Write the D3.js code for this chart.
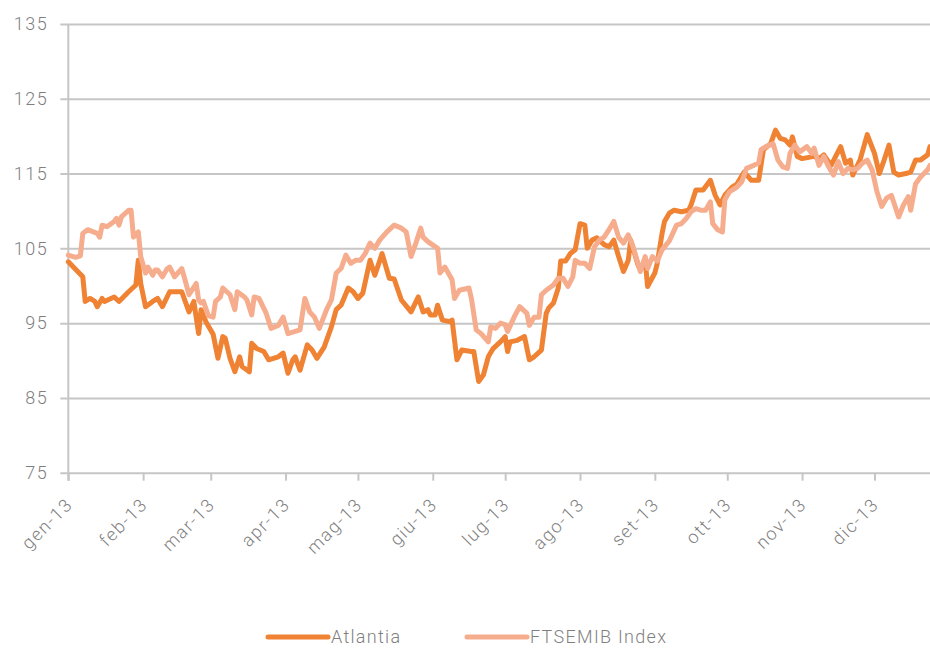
<!DOCTYPE html>
<html>
<head>
<meta charset="utf-8">
<script src="https://cdn.jsdelivr.net/npm/d3@7"></script>
<style>
    body { margin: 0; background: #fff; }
    text { font-family: Roboto, "Liberation Sans", sans-serif; font-weight: 300; fill: #7f7f7f; }
</style>
</head>
<body>
<div id="chart"></div>
<script>
// Atlantia vs FTSEMIB, base 100
const atlantiaDates = [
    "2013-01-01", "2013-01-07", "2013-01-08", "2013-01-10", "2013-01-12", "2013-01-13", "2013-01-15", "2013-01-16",
    "2013-01-20", "2013-01-22", "2013-01-26", "2013-01-29", "2013-01-30", "2013-01-31", "2013-02-02", "2013-02-05",
    "2013-02-07", "2013-02-09", "2013-02-12", "2013-02-17", "2013-02-20", "2013-02-22", "2013-02-24", "2013-02-25",
    "2013-02-27", "2013-03-02", "2013-03-04", "2013-03-06", "2013-03-07", "2013-03-09", "2013-03-11", "2013-03-13",
    "2013-03-14", "2013-03-17", "2013-03-18", "2013-03-20", "2013-03-23", "2013-03-25", "2013-03-29", "2013-03-31",
    "2013-04-02", "2013-04-04", "2013-04-05", "2013-04-07", "2013-04-10", "2013-04-12", "2013-04-14", "2013-04-17",
    "2013-04-20", "2013-04-22", "2013-04-24", "2013-04-27", "2013-04-29", "2013-05-01", "2013-05-03", "2013-05-06",
    "2013-05-08", "2013-05-11", "2013-05-14", "2013-05-16", "2013-05-19", "2013-05-23", "2013-05-26", "2013-05-28",
    "2013-05-30", "2013-05-31", "2013-06-02", "2013-06-03", "2013-06-05", "2013-06-08", "2013-06-09", "2013-06-11",
    "2013-06-13", "2013-06-17", "2013-06-18", "2013-06-20", "2013-06-22", "2013-06-24", "2013-06-26", "2013-06-29",
    "2013-07-01", "2013-07-02", "2013-07-03", "2013-07-06", "2013-07-09", "2013-07-11", "2013-07-13", "2013-07-16",
    "2013-07-18", "2013-07-19", "2013-07-21", "2013-07-23", "2013-07-24", "2013-07-26", "2013-07-28", "2013-07-30",
    "2013-08-01", "2013-08-03", "2013-08-04", "2013-08-06", "2013-08-08", "2013-08-11", "2013-08-13", "2013-08-15",
    "2013-08-17", "2013-08-19", "2013-08-21", "2013-08-22", "2013-08-25", "2013-08-26", "2013-08-28", "2013-08-29",
    "2013-09-01", "2013-09-02", "2013-09-04", "2013-09-05", "2013-09-07", "2013-09-09", "2013-09-12", "2013-09-15",
    "2013-09-16", "2013-09-18", "2013-09-21", "2013-09-24", "2013-09-26", "2013-09-28", "2013-09-30", "2013-10-03",
    "2013-10-05", "2013-10-08", "2013-10-11", "2013-10-14", "2013-10-16", "2013-10-19", "2013-10-21", "2013-10-23",
    "2013-10-25", "2013-10-27", "2013-10-28", "2013-10-30", "2013-11-01", "2013-11-06", "2013-11-08", "2013-11-10",
    "2013-11-13", "2013-11-17", "2013-11-19", "2013-11-21", "2013-11-22", "2013-11-25", "2013-11-28", "2013-12-01",
    "2013-12-03", "2013-12-05", "2013-12-07", "2013-12-09", "2013-12-11", "2013-12-14", "2013-12-16", "2013-12-18",
    "2013-12-20", "2013-12-23", "2013-12-24"
];
const atlantiaValues = [
    103.2, 101.2, 97.9, 98.3, 97.9, 97.2, 98.3, 97.9,
    98.5, 97.9, 99.2, 100.1, 103.4, 100.3, 97.2, 97.9,
    98.3, 97.2, 99.2, 99.2, 96.5, 97.9, 93.6, 96.8,
    95.2, 93.5, 90.3, 93.2, 93.0, 90.3, 88.5, 90.5,
    89.2, 88.5, 92.3, 91.6, 91.2, 90.1, 90.5, 91.0,
    88.3, 90.1, 90.5, 88.7, 92.1, 91.4, 90.3, 91.8,
    94.5, 96.8, 97.4, 99.7, 99.2, 98.3, 99.0, 103.4,
    101.4, 104.3, 101.0, 100.9, 98.1, 96.5, 98.5, 96.5,
    96.8, 96.1, 96.1, 97.4, 95.4, 95.2, 95.4, 90.1,
    91.4, 91.2, 91.2, 87.2, 88.1, 90.5, 91.6, 92.5,
    93.2, 91.2, 92.5, 92.7, 93.2, 90.1, 90.5, 91.4,
    96.3, 97.0, 97.7, 99.7, 103.3, 103.3, 104.3, 104.8,
    108.3, 108.1, 105.0, 106.1, 106.4, 105.5, 105.2, 106.1,
    103.9, 101.9, 103.4, 106.1, 102.8, 102.1, 103.4, 99.9,
    101.7, 103.0, 107.0, 108.6, 109.7, 110.1, 109.9, 110.1,
    110.8, 112.8, 112.8, 114.1, 112.1, 110.8, 112.1, 113.2,
    113.6, 115.2, 114.1, 114.1, 118.2, 119.0, 120.8, 119.7,
    119.5, 118.8, 119.9, 117.3, 117.0, 117.3, 117.0, 117.5,
    116.1, 118.6, 116.4, 116.8, 114.8, 116.8, 120.2, 117.7,
    115.0, 116.8, 118.8, 115.2, 114.8, 115.0, 115.2, 116.8,
    116.8, 117.5, 118.6
];

const ftseDates = [
    "2013-01-01", "2013-01-04", "2013-01-06", "2013-01-07", "2013-01-09", "2013-01-13", "2013-01-14", "2013-01-15",
    "2013-01-17", "2013-01-20", "2013-01-21", "2013-01-22", "2013-01-23", "2013-01-26", "2013-01-27", "2013-01-28",
    "2013-01-30", "2013-01-31", "2013-02-02", "2013-02-03", "2013-02-05", "2013-02-06", "2013-02-07", "2013-02-09",
    "2013-02-11", "2013-02-12", "2013-02-14", "2013-02-17", "2013-02-18", "2013-02-20", "2013-02-23", "2013-02-24",
    "2013-02-25", "2013-02-26", "2013-02-28", "2013-03-02", "2013-03-03", "2013-03-05", "2013-03-06", "2013-03-09",
    "2013-03-11", "2013-03-12", "2013-03-15", "2013-03-16", "2013-03-18", "2013-03-19", "2013-03-21", "2013-03-24",
    "2013-03-26", "2013-03-29", "2013-03-31", "2013-04-02", "2013-04-05", "2013-04-07", "2013-04-09", "2013-04-11",
    "2013-04-13", "2013-04-15", "2013-04-18", "2013-04-20", "2013-04-22", "2013-04-24", "2013-04-26", "2013-04-28",
    "2013-04-30", "2013-05-02", "2013-05-04", "2013-05-06", "2013-05-08", "2013-05-10", "2013-05-13", "2013-05-16",
    "2013-05-19", "2013-05-21", "2013-05-23", "2013-05-25", "2013-05-27", "2013-05-28", "2013-05-30", "2013-06-03",
    "2013-06-04", "2013-06-06", "2013-06-09", "2013-06-10", "2013-06-12", "2013-06-16", "2013-06-17", "2013-06-19",
    "2013-06-21", "2013-06-24", "2013-06-25", "2013-06-27", "2013-06-29", "2013-07-01", "2013-07-02", "2013-07-05",
    "2013-07-07", "2013-07-10", "2013-07-11", "2013-07-13", "2013-07-15", "2013-07-16", "2013-07-18", "2013-07-21",
    "2013-07-23", "2013-07-25", "2013-07-27", "2013-07-29", "2013-07-30", "2013-08-01", "2013-08-03", "2013-08-05",
    "2013-08-07", "2013-08-09", "2013-08-11", "2013-08-13", "2013-08-15", "2013-08-17", "2013-08-19", "2013-08-21",
    "2013-08-23", "2013-08-26", "2013-08-28", "2013-08-29", "2013-08-31", "2013-09-02", "2013-09-04", "2013-09-07",
    "2013-09-10", "2013-09-12", "2013-09-14", "2013-09-16", "2013-09-18", "2013-09-20", "2013-09-22", "2013-09-24",
    "2013-09-25", "2013-09-27", "2013-09-29", "2013-09-30", "2013-10-02", "2013-10-05", "2013-10-07", "2013-10-09",
    "2013-10-12", "2013-10-14", "2013-10-15", "2013-10-17", "2013-10-20", "2013-10-22", "2013-10-24", "2013-10-26",
    "2013-10-27", "2013-10-29", "2013-10-31", "2013-11-03", "2013-11-05", "2013-11-06", "2013-11-08", "2013-11-10",
    "2013-11-12", "2013-11-14", "2013-11-16", "2013-11-18", "2013-11-20", "2013-11-22", "2013-11-24", "2013-11-26",
    "2013-11-28", "2013-11-30", "2013-12-02", "2013-12-04", "2013-12-06", "2013-12-08", "2013-12-11", "2013-12-13",
    "2013-12-15", "2013-12-16", "2013-12-18", "2013-12-20", "2013-12-23", "2013-12-24"
];
const ftseValues = [
    104.1, 103.8, 104.0, 107.0, 107.5, 107.0, 106.5, 108.1,
    107.9, 108.6, 109.0, 108.1, 109.2, 110.1, 110.1, 106.5,
    107.2, 103.9, 101.7, 102.5, 101.4, 102.1, 102.1, 101.2,
    102.3, 102.5, 101.2, 102.3, 101.2, 98.8, 100.3, 98.1,
    97.7, 97.9, 96.0, 95.8, 97.9, 98.5, 99.7, 98.8,
    96.8, 99.2, 98.5, 98.1, 96.1, 98.5, 98.3, 96.3,
    94.3, 94.7, 95.8, 93.6, 93.9, 94.1, 98.3, 96.5,
    95.8, 94.3, 96.8, 98.1, 101.7, 102.3, 104.1, 103.0,
    103.4, 103.4, 104.3, 105.7, 105.0, 106.1, 107.2, 108.1,
    107.7, 107.2, 103.9, 105.7, 107.7, 106.5, 105.9, 105.0,
    101.7, 102.5, 100.8, 98.3, 99.4, 99.7, 98.3, 94.1,
    93.6, 92.5, 94.5, 94.3, 95.0, 94.8, 93.9, 96.0,
    97.2, 96.3, 94.7, 95.8, 95.8, 98.8, 99.4, 100.1,
    101.0, 101.0, 99.9, 101.2, 103.4, 103.0, 103.0, 102.3,
    105.2, 106.1, 106.5, 107.5, 108.6, 106.5, 105.7, 106.8,
    105.2, 101.9, 103.9, 102.3, 103.9, 103.3, 104.8, 106.0,
    108.1, 108.3, 109.0, 109.9, 110.3, 110.1, 110.1, 111.2,
    108.3, 107.5, 107.2, 111.5, 112.6, 113.2, 113.9, 115.7,
    116.1, 116.4, 118.2, 118.6, 119.0, 116.8, 115.9, 115.7,
    117.7, 118.8, 117.9, 118.6, 117.7, 118.4, 116.1, 117.3,
    115.9, 114.8, 116.6, 115.0, 115.7, 115.5, 115.7, 116.4,
    116.8, 115.5, 112.6, 110.6, 111.7, 112.1, 109.2, 110.8,
    111.9, 110.1, 113.6, 114.5, 115.5, 116.1
];

const seriesNames = ["Atlantia", "FTSEMIB Index"];
const seriesColors = ["#ef8233", "#f6ad8d"];
const yTicks = [75, 85, 95, 105, 115, 125, 135];
const monthTicks = ["2013-01-01", "2013-02-01", "2013-03-01", "2013-04-01", "2013-05-01", "2013-06-01",
    "2013-07-01", "2013-08-01", "2013-09-01", "2013-10-01", "2013-11-01", "2013-12-01"];
const monthLabels = ["gen-13", "feb-13", "mar-13", "apr-13", "mag-13", "giu-13",
    "lug-13", "ago-13", "set-13", "ott-13", "nov-13", "dic-13"];

const parse = d3.timeParse("%Y-%m-%d");
const series = [
    atlantiaDates.map((d, i) => ({ date: parse(d), value: atlantiaValues[i] })),
    ftseDates.map((d, i) => ({ date: parse(d), value: ftseValues[i] }))
];

// chart dimensions
const width = 930;
const height = 648;
const plotLeft = 68.3;
const plotRight = 930;
const plotTop = 24;
const plotBottom = 472.7;
const gridColor = "#c6c6c6";

const svg = d3.select("#chart")
    .append("svg")
    .attr("width", width)
    .attr("height", height);

const x = d3.scaleTime()
    .domain([parse("2013-01-01"), parse("2013-12-24")])
    .range([plotLeft, plotRight]);
const y = d3.scaleLinear()
    .domain([75, 135])
    .range([plotBottom, plotTop]);

// gridlines + y labels
const yAxis = svg.append("g")
    .attr("transform", `translate(${plotLeft},0)`)
    .call(d3.axisLeft(y).tickValues(yTicks).tickSize(-(plotRight - plotLeft)).tickPadding(20));
yAxis.select(".domain").remove();
yAxis.selectAll(".tick line")
    .attr("x1", -8)
    .attr("stroke", gridColor)
    .attr("stroke-width", 2);
yAxis.selectAll(".tick text")
    .attr("font-size", "18px")
    .attr("letter-spacing", "1.5px")
    .attr("fill", "#7f7f7f");

// vertical axis line
svg.append("line")
    .attr("x1", plotLeft).attr("x2", plotLeft)
    .attr("y1", plotTop).attr("y2", plotBottom + 8)
    .attr("stroke", gridColor)
    .attr("stroke-width", 2);

// x axis ticks and rotated month labels
const xAxis = svg.append("g")
    .attr("transform", `translate(0,${plotBottom})`)
    .call(d3.axisBottom(x)
        .tickValues(monthTicks.map(parse))
        .tickSize(8)
        .tickFormat((d, i) => monthLabels[i]));
xAxis.select(".domain").remove();
xAxis.selectAll(".tick line")
    .attr("stroke", gridColor)
    .attr("stroke-width", 2);
xAxis.selectAll(".tick text")
    .attr("x", 0).attr("y", 0).attr("dy", 0)
    .attr("text-anchor", "end")
    .attr("transform", "translate(5,33) rotate(-45)")
    .attr("font-size", "18px")
    .attr("letter-spacing", "1.5px")
    .attr("fill", "#7f7f7f");

// series lines
const line = d3.line()
    .x(d => x(d.date))
    .y(d => y(d.value));

series.forEach((s, i) => {
    svg.append("path")
        .datum(s)
        .attr("fill", "none")
        .attr("stroke", seriesColors[i])
        .attr("stroke-width", 5)
        .attr("stroke-linejoin", "round")
        .attr("stroke-linecap", "round")
        .attr("d", line);
});

// legend
const legendX = [268, 467];
const legend = svg.append("g");
seriesNames.forEach((name, i) => {
    legend.append("line")
        .attr("x1", legendX[i]).attr("x2", legendX[i] + 60)
        .attr("y1", 637).attr("y2", 637)
        .attr("stroke", seriesColors[i])
        .attr("stroke-width", 5)
        .attr("stroke-linecap", "round");
    legend.append("text")
        .attr("x", legendX[i] + 63)
        .attr("y", 637)
        .attr("dy", "0.35em")
        .attr("font-size", "18px")
        .attr("letter-spacing", "1.3px")
        .text(name);
});
</script>
</body>
</html>
